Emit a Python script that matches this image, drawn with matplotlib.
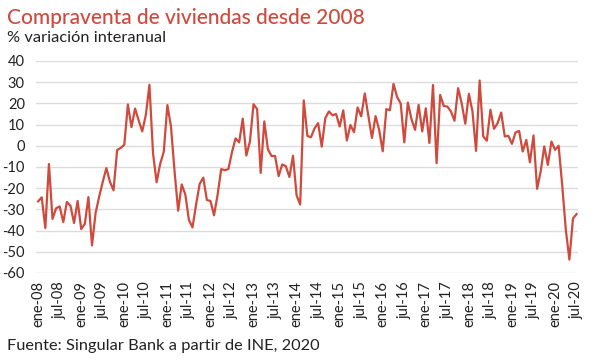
import matplotlib
matplotlib.use("Agg")
from matplotlib import pyplot as plt
import numpy as np

# monthly year-on-year change, ene-08 .. jul-20
valores = [
    -26.2, -24.3, -38.8, -8.6, -34.5, -29.5, -28.6, -36.0, -26.5, -28.3, -36.4, -26.0,   # 2008
    -39.3, -36.8, -24.2, -47.0, -31.7, -24.0, -17.0, -10.5, -17.0, -21.0, -2.0, -1.0,     # 2009
    0.5, 19.5, 8.8, 17.6, 12.0, 6.8, 14.6, 28.8, -3.5, -17.2, -8.5, -2.8,                 # 2010
    19.2, 9.2, -12.0, -30.6, -18.2, -23.0, -35.0, -38.5, -27.7, -18.0, -15.0, -25.6,      # 2011
    -26.0, -32.8, -23.0, -11.0, -11.5, -11.0, -3.0, 3.5, 1.6, 12.8, -4.6, 2.0,            # 2012
    19.6, 17.3, -12.8, 11.5, -1.6, -4.8, -4.8, -14.3, -8.8, -9.6, -14.7, -4.7,            # 2013
    -23.4, -27.7, 21.4, 4.7, 4.0, 8.2, 10.7, -0.4, 13.0, 16.2, 14.4, 15.0,                # 2014
    9.1, 16.7, 2.5, 9.8, 6.4, 18.1, 13.9, 24.7, 14.0, 3.7, 14.0, 7.5,                     # 2015
    -2.6, 17.3, 16.8, 29.2, 23.0, 20.0, 1.6, 20.4, 12.6, 7.5, 19.3, 6.8,                  # 2016
    17.7, 1.3, 28.7, -8.2, 24.0, 18.8, 18.5, 16.2, 11.8, 27.2, 20.0, 10.4,                # 2017
    24.5, 16.2, -2.4, 30.8, 4.4, 2.4, 17.0, 8.0, 10.7, 15.7, 4.4, 4.7,                    # 2018
    0.9, 6.3, 7.0, -2.7, 2.8, -7.8, 4.9, -20.3, -12.1, -0.3, -9.0, 2.0,                   # 2019
    -1.9, 0.0, -18.6, -39.5, -53.7, -34.3, -32.2,                                         # 2020
]
anios = ["08", "09", "10", "11", "12", "13", "14", "15", "16", "17", "18", "19", "20"]
etiquetas = []
for a in anios:
    etiquetas += ["ene-" + a, "jul-" + a]
yticks = [40, 30, 20, 10, 0, -10, -20, -30, -40, -50, -60]

plt.rcParams['font.family'] = ['Lato', 'DejaVu Sans']
rojo = "#cf4a3c"

fig = plt.figure(figsize=(5.96, 3.62), dpi=100)
ax = fig.add_axes([0.0604, 0.2459, 0.9094, 0.5856])

x = np.arange(len(valores))
ax.plot(x, valores, color=rojo, linewidth=1.6, zorder=3)

ax.set_ylim(-60, 40)
ax.set_yticks(yticks)
ax.set_yticklabels([str(v) for v in yticks])
ax.set_xlim(-0.6, 150.4)
ax.set_xticks(np.arange(0, len(valores), 6))
ax.set_xticklabels(etiquetas, rotation=90)

ax.grid(axis="y", color="#dcdcdc", linewidth=1.0)
ax.grid(axis="x", visible=False)
for s in ax.spines.values():
    s.set_visible(False)
ax.tick_params(axis="y", length=0, labelsize=10.5, colors="#222222", pad=8)
ax.tick_params(axis="x", length=0, labelsize=10.5, colors="#222222", pad=6)

fig.text(0.012, 0.933, "Compraventa de viviendas desde 2008", color=rojo,
         fontsize=15, fontweight="medium")
fig.text(0.012, 0.883, "% variación interanual", color="#222222", fontsize=11.8)
fig.text(0.012, 0.033, "Fuente: Singular Bank a partir de INE, 2020", color="#222222",
         fontsize=11.8)

fig.savefig("out.png", dpi=100)
